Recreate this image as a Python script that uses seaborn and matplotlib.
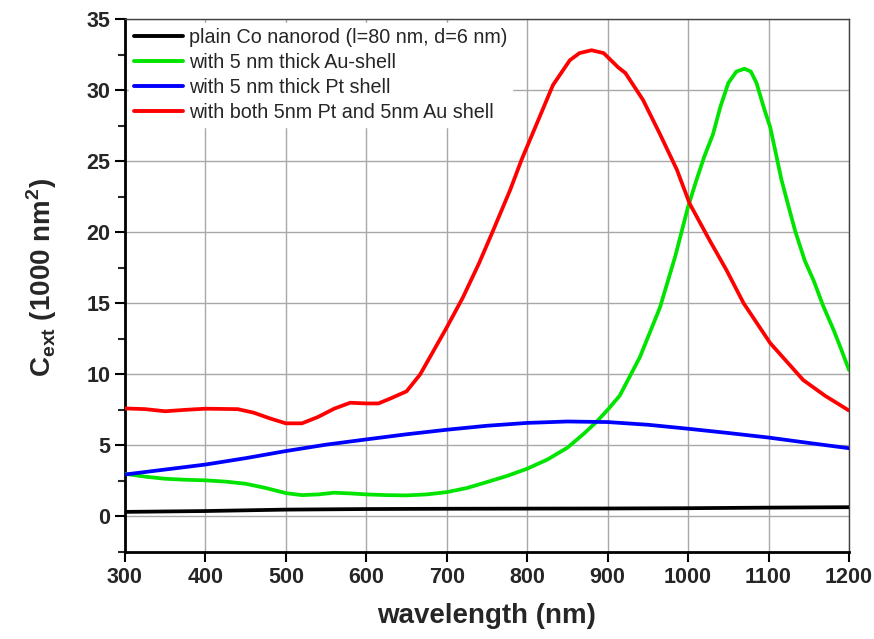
import pandas as pd
import seaborn as sns
import matplotlib.pyplot as plt
from matplotlib.ticker import MultipleLocator

# plain Co nanorod
wl_co = [300, 400, 500, 600, 700, 800, 900, 1000, 1100, 1200]
c_co = [0.32, 0.38, 0.48, 0.52, 0.54, 0.55, 0.56, 0.58, 0.62, 0.65]

# 5 nm Au shell
wl_au = [300, 325, 350, 375, 400, 425, 450, 475, 500, 520, 540, 560, 580, 600,
         625, 650, 675, 700, 725, 750, 775, 800, 825, 850, 870, 886, 900, 915,
         940, 965, 984, 1000, 1010, 1020, 1031, 1040, 1050, 1060, 1070, 1078,
         1085, 1095, 1102, 1110, 1116, 1123, 1133, 1145, 1156, 1168, 1181, 1190, 1200]
c_au = [3.0, 2.8, 2.65, 2.58, 2.54, 2.45, 2.3, 2.0, 1.64, 1.5, 1.55, 1.67, 1.62, 1.55,
        1.5, 1.48, 1.55, 1.71, 2.0, 2.42, 2.85, 3.36, 4.0, 4.84, 5.8, 6.65, 7.5, 8.5,
        11.2, 14.7, 18.3, 21.8, 23.6, 25.3, 26.9, 28.8, 30.5, 31.3, 31.5, 31.3,
        30.5, 28.6, 27.4, 25.3, 23.7, 22.2, 20.1, 18.0, 16.6, 14.8, 13.1, 11.8, 10.3]

# 5 nm Pt shell
wl_pt = [300, 350, 400, 450, 500, 550, 600, 650, 700, 750, 800, 850, 900, 950,
         1000, 1050, 1100, 1150, 1200]
c_pt = [2.95, 3.3, 3.65, 4.1, 4.6, 5.05, 5.42, 5.78, 6.1, 6.38, 6.58, 6.68, 6.64,
        6.45, 6.17, 5.87, 5.55, 5.17, 4.8]

# Pt + Au shells
wl_ptau = [300, 325, 350, 375, 400, 440, 460, 480, 500, 520, 540, 560, 580, 600,
           615, 630, 650, 667, 677, 700, 720, 740, 756, 779, 793, 812, 832, 853,
           865, 880, 895, 913, 922, 944, 965, 986, 1002, 1027, 1048, 1069, 1102,
           1143, 1170, 1200]
c_ptau = [7.6, 7.55, 7.4, 7.5, 7.58, 7.55, 7.3, 6.9, 6.55, 6.55, 7.0, 7.58, 8.0, 7.95,
          7.95, 8.3, 8.8, 10.0, 11.0, 13.3, 15.4, 17.8, 19.9, 23.0, 25.1, 27.65, 30.35, 32.1,
          32.6, 32.8, 32.6, 31.6, 31.2, 29.3, 26.9, 24.4, 22.0, 19.4, 17.3, 15.0, 12.2,
          9.6, 8.5, 7.45]

labels = ["plain Co nanorod (l=80 nm, d=6 nm)",
          "with 5 nm thick Au-shell",
          "with 5 nm thick Pt shell",
          "with both 5nm Pt and 5nm Au shell"]
colors = ["#000000", "#00e400", "#0000ff", "#ff0000"]

frames = []
for lab, x, y in zip(labels, [wl_co, wl_au, wl_pt, wl_ptau], [c_co, c_au, c_pt, c_ptau]):
    frames.append(pd.DataFrame({"wl": x, "c": y, "series": lab}))
df = pd.concat(frames, ignore_index=True)

sns.set_style("white")
plt.rcParams['font.family'] = ['Liberation Sans', 'DejaVu Sans']
plt.rcParams['mathtext.fontset'] = 'custom'
plt.rcParams['mathtext.bf'] = 'Liberation Sans:bold'
plt.rcParams['mathtext.rm'] = 'Liberation Sans:bold'

fig = plt.figure(figsize=(8.74, 6.39), dpi=100)
ax = fig.add_axes([0.143, 0.1362, 0.8284, 0.8341])

sns.lineplot(data=df, x="wl", y="c", hue="series", hue_order=labels,
             palette=colors, linewidth=2.7, sort=False, ax=ax, zorder=3)

ax.set_xlim(300, 1200)
ax.set_ylim(-2.5, 35)
ax.xaxis.set_major_locator(MultipleLocator(100))
ax.yaxis.set_major_locator(MultipleLocator(5))
ax.yaxis.set_minor_locator(MultipleLocator(2.5))

ax.grid(True, which="major", color="#a8a8a8", linewidth=1.0, zorder=0)
ax.set_axisbelow(True)

for s in ["left", "bottom"]:
    ax.spines[s].set_linewidth(2.0)
    ax.spines[s].set_color("black")
for s in ["top", "right"]:
    ax.spines[s].set_linewidth(1.0)
    ax.spines[s].set_color("#404040")

ax.tick_params(axis="both", which="major", direction="out", length=7, width=1.5,
               labelsize=15.5, color="black", left=True, bottom=True)
ax.tick_params(axis="y", which="minor", direction="out", length=5, width=1.5, left=True)
for t in ax.get_xticklabels() + ax.get_yticklabels():
    t.set_fontweight("bold")

ax.set_xlabel("wavelength (nm)", fontsize=20, fontweight="bold", labelpad=11)
ax.set_ylabel(r"C$_{\mathbf{ext}}$ (1000 nm$^{\mathbf{2}}$)", fontsize=20,
              fontweight="bold", labelpad=20)
ax.yaxis.label.set_y(0.515)

leg = ax.legend(loc="upper left", fontsize=14.2, handlelength=2.5, handletextpad=0.3,
                labelspacing=0.3, borderaxespad=0.2, borderpad=0.25,
                frameon=True, fancybox=False, title=None)
leg.get_frame().set_facecolor("white")
leg.get_frame().set_edgecolor("white")
leg.get_frame().set_alpha(1.0)
for line in leg.get_lines():
    line.set_linewidth(2.8)

plt.savefig("out.png", dpi=100)
